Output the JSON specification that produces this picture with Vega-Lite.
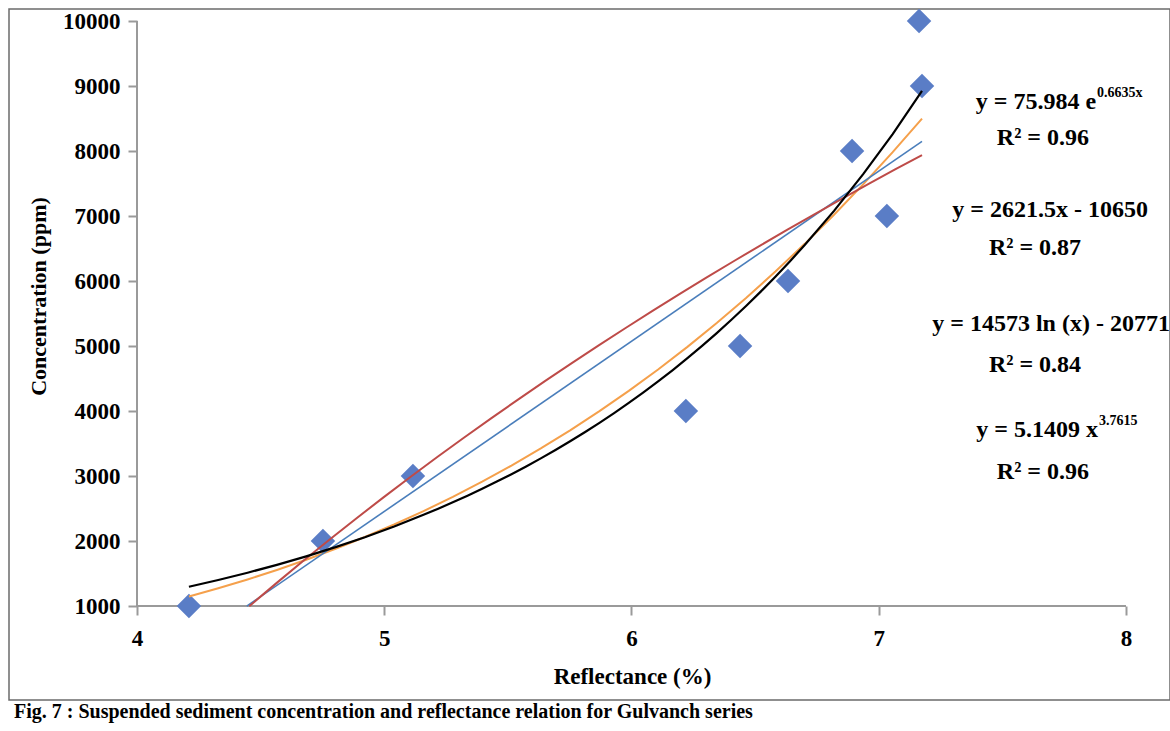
{
  "$schema": "https://vega.github.io/schema/vega-lite/v6.json",
  "width": 1161,
  "height": 691,
  "autosize": "none",
  "padding": {"left": 9, "top": 9, "right": 0, "bottom": 31},
  "background": "white",
  "config": {
    "view": {"stroke": "#6b6b6b", "strokeWidth": 1.5},
    "font": "Liberation Serif"
  },
  "title": {
    "text": "Fig. 7 : Suspended sediment concentration and reflectance relation for Gulvanch series",
    "orient": "bottom",
    "anchor": "start",
    "font": "Liberation Serif",
    "fontSize": 20,
    "fontWeight": "bold",
    "color": "black",
    "offset": 2,
    "dx": 5
  },
  "data": {
    "values": [
      {"r": 4.21, "c": 1000},
      {"r": 4.752, "c": 2000},
      {"r": 5.116, "c": 3000},
      {"r": 6.22, "c": 4000},
      {"r": 6.439, "c": 5000},
      {"r": 6.633, "c": 6000},
      {"r": 6.892, "c": 8000},
      {"r": 7.033, "c": 7000},
      {"r": 7.163, "c": 10000},
      {"r": 7.175, "c": 9000}
    ]
  },
  "encoding": {
    "x": {
      "field": "r",
      "type": "quantitative",
      "scale": {"domain": [3.4823, 8.178], "nice": false, "zero": false},
      "axis": {
        "title": "Reflectance (%)",
        "offset": -94,
        "values": [4, 5, 6, 7, 8],
        "format": "d",
        "domain": false,
        "grid": false,
        "tickSize": 9,
        "tickWidth": 2,
        "tickColor": "#9a9a9a",
        "labelPadding": 12,
        "labelFont": "Liberation Serif",
        "labelFontSize": 23,
        "labelFontWeight": "bold",
        "labelColor": "black",
        "titleFont": "Liberation Serif",
        "titleFontSize": 23,
        "titleFontWeight": "bold",
        "titleColor": "black",
        "titleX": 623,
        "titleY": 70,
        "titleAlign": "center",
        "titleBaseline": "middle"
      }
    },
    "y": {
      "field": "c",
      "type": "quantitative",
      "scale": {"domain": [-446, 10185], "nice": false, "zero": false},
      "axis": {
        "title": "Concentration (ppm)",
        "offset": -128,
        "values": [1000, 2000, 3000, 4000, 5000, 6000, 7000, 8000, 9000, 10000],
        "format": "d",
        "domain": false,
        "grid": false,
        "tickSize": 9,
        "tickWidth": 2,
        "tickColor": "#9a9a9a",
        "labelPadding": 8,
        "labelFont": "Liberation Serif",
        "labelFontSize": 23,
        "labelFontWeight": "bold",
        "labelColor": "black",
        "titleFont": "Liberation Serif",
        "titleFontSize": 22,
        "titleFontWeight": "bold",
        "titleColor": "black",
        "titleX": -99,
        "titleY": 287,
        "titleAngle": -90,
        "titleAlign": "center",
        "titleBaseline": "middle"
      }
    }
  },
  "layer": [
    {
      "data": {"values": [{"r": 4, "r2": 8, "c": 1000}]},
      "mark": {"type": "rule", "color": "#9a9a9a", "strokeWidth": 2},
      "encoding": {"x2": {"field": "r2"}}
    },
    {
      "data": {"values": [{"r": 4, "c": 1000, "c2": 10000}]},
      "mark": {"type": "rule", "color": "#9a9a9a", "strokeWidth": 2},
      "encoding": {"y2": {"field": "c2"}}
    },
    {
      "mark": {"type": "point", "shape": "diamond", "filled": true, "size": 600, "color": "#5a7dc6", "opacity": 1}
    },
    {
      "transform": [{"regression": "c", "on": "r", "method": "pow", "extent": [4.21, 7.175]}],
      "mark": {"type": "line", "color": "#f5a04b", "strokeWidth": 2}
    },
    {
      "transform": [{"regression": "c", "on": "r", "method": "linear", "extent": [4.444, 7.175]}],
      "mark": {"type": "line", "color": "#4a7ebb", "strokeWidth": 1.6}
    },
    {
      "transform": [{"regression": "c", "on": "r", "method": "log", "extent": [4.454, 7.175]}],
      "mark": {"type": "line", "color": "#be4b48", "strokeWidth": 2}
    },
    {
      "transform": [{"regression": "c", "on": "r", "method": "exp", "extent": [4.21, 7.175]}],
      "mark": {"type": "line", "color": "black", "strokeWidth": 2.2}
    },
    {
      "data": {"values": [
        {"r": 7.879, "c": 8754, "label": "y = 75.984 e"},
        {"r": 7.887, "c": 3708, "label": "y = 5.1409 x"}
      ]},
      "mark": {"type": "text", "align": "right", "baseline": "middle", "fontSize": 24, "fontWeight": "bold", "font": "Liberation Serif", "color": "black"},
      "encoding": {"text": {"field": "label"}}
    },
    {
      "data": {"values": [
        {"r": 7.879, "c": 8754, "label": "0.6635x"},
        {"r": 7.887, "c": 3708, "label": "3.7615"}
      ]},
      "mark": {"type": "text", "align": "left", "baseline": "middle", "dx": 1, "dy": -9, "fontSize": 14, "fontWeight": "bold", "font": "Liberation Serif", "color": "black"},
      "encoding": {"text": {"field": "label"}}
    },
    {
      "data": {"values": [
        {"r": 7.664, "c": 8200, "label": "R² = 0.96"},
        {"r": 7.693, "c": 7092, "label": "y = 2621.5x - 10650"},
        {"r": 7.632, "c": 6508, "label": "R² = 0.87"},
        {"r": 7.697, "c": 5338, "label": "y = 14573 ln (x) - 20771"},
        {"r": 7.632, "c": 4708, "label": "R² = 0.84"},
        {"r": 7.664, "c": 3062, "label": "R² = 0.96"}
      ]},
      "mark": {"type": "text", "align": "center", "baseline": "middle", "fontSize": 24, "fontWeight": "bold", "font": "Liberation Serif", "color": "black"},
      "encoding": {"text": {"field": "label"}}
    }
  ]
}
